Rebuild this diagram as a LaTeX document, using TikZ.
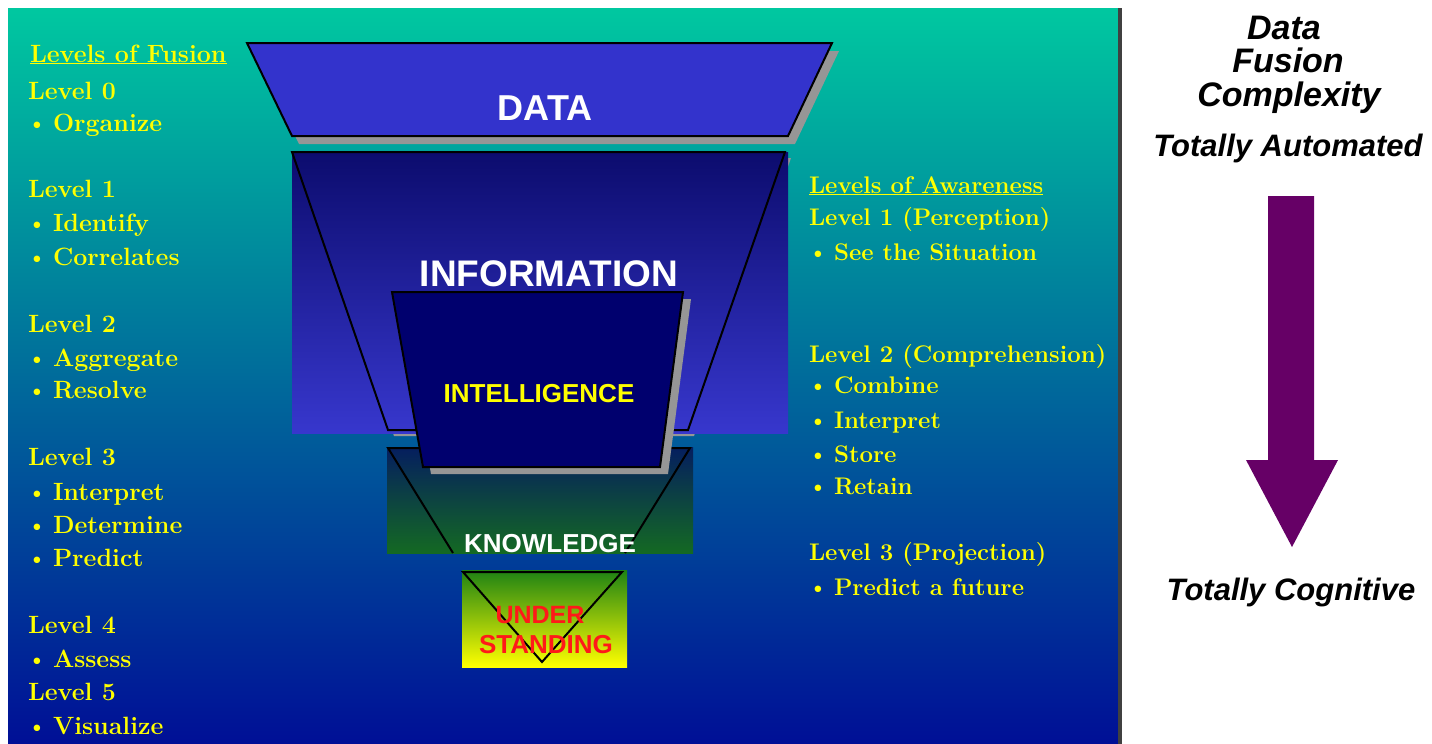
\documentclass[tikz,border=0pt]{standalone}
\usepackage{fontspec}
\newfontfamily\boxfont{Liberation Sans}
\definecolor{fuseyellow}{RGB}{255,255,0}
\definecolor{paneltop}{RGB}{0,200,160}
\definecolor{panelmid}{RGB}{0,115,160}
\definecolor{panelbot}{RGB}{0,15,150}
\definecolor{datablue}{RGB}{51,51,204}
\definecolor{infotop}{RGB}{12,12,110}
\definecolor{infobot}{RGB}{55,55,205}
\definecolor{intelnavy}{RGB}{0,0,110}
\definecolor{knowtop}{RGB}{5,30,95}
\definecolor{knowbot}{RGB}{20,105,35}
\definecolor{undtop}{RGB}{30,130,20}
\definecolor{undmid}{RGB}{190,215,10}
\definecolor{shadowgray}{RGB}{150,150,150}
\definecolor{cogpurple}{RGB}{102,0,102}
\definecolor{redlabel}{RGB}{255,25,25}
\newcommand{\fusebul}{\makebox[8pt]{\raisebox{1pt}{\fontsize{22}{22}\selectfont\textbullet}}\hspace{12pt}}

\begin{document}
\begin{tikzpicture}[x=1pt, y=-1pt, line width=2pt,
    lvl/.style={anchor=base west, inner sep=0pt, text=fuseyellow, font=\fontsize{25}{30}\selectfont\bfseries},
    awr/.style={lvl, font=\fontsize{24}{29}\selectfont\bfseries},
    tier/.style={inner sep=0pt, font=\boxfont\fontsize{#1}{#1}\selectfont\bfseries},
    cplx/.style={anchor=base, inner sep=0pt, font=\boxfont\fontsize{#1}{#1}\selectfont\bfseries\itshape}]

    \useasboundingbox (0,0) rectangle (1432,744);

    % panel and divider
    \fill[top color=paneltop, middle color=panelmid, bottom color=panelbot] (8,8) rectangle (1118,744);
    \draw[line width=4pt, black!75] (1120,8) -- (1120,744);

    % data
    \fill[shadowgray] (254,51) -- (839,51) -- (795,144) -- (299,144) -- cycle;
    \draw[fill=datablue] (247,43) -- (832,43) -- (788,136) -- (292,136) -- cycle;
    \node (data) at (545,108) [tier=36, text=white] {DATA};

    % information
    \fill[shadowgray] (298,158) -- (791,158) -- (694,436) -- (394,436) -- cycle;
    \fill[top color=infotop, bottom color=infobot] (292,152) rectangle (788,433);
    \draw (292,152) -- (785,152) -- (688,430) -- (388,430) -- cycle;
    \node (information) at (549,274) [tier=37, text=white] {INFORMATION};

    % knowledge
    \fill[top color=knowtop, bottom color=knowbot] (387,447) rectangle (693,553);
    \draw (453,553) -- (388,448) -- (690,448) -- (625,553);
    \node (knowledge) at (550,544) [tier=26, text=white] {KNOWLEDGE};

    % understanding
    \fill[top color=undtop, middle color=undmid, bottom color=fuseyellow] (462,570) rectangle (627,667);
    \draw (463,572) -- (622,572) -- (542,662) -- cycle;
    \node (under) at (540,615) [tier=25, text=redlabel] {UNDER};
    \node (standing) at (546,645) [tier=26, text=redlabel] {STANDING};

    % intelligence
    \fill[shadowgray] (400,299) -- (691,299) -- (668,474) -- (431,474) -- cycle;
    \draw[fill=intelnavy] (392,292) -- (683,292) -- (660,467) -- (423,467) -- cycle;
    \node (intelligence) at (539,394) [tier=26, text=fuseyellow] {INTELLIGENCE};

    % levels of fusion
    \node (fusionhead) at (29,62) [lvl] {\underline{Levels of Fusion}};
    \node (lvlzero)    at (27,99)  [lvl] {Level 0};
    \node (organize)   at (32,131) [lvl] {\fusebul Organize};
    \node (lvlone)     at (27,197) [lvl] {Level 1};
    \node (identify)   at (32,231) [lvl] {\fusebul Identify};
    \node (correlates) at (32,265) [lvl] {\fusebul Correlates};
    \node (lvltwo)     at (27,332) [lvl] {Level 2};
    \node (aggregate)  at (32,366) [lvl] {\fusebul Aggregate};
    \node (resolve)    at (32,398) [lvl] {\fusebul Resolve};
    \node (lvlthree)   at (27,465) [lvl] {Level 3};
    \node (interpretF) at (32,500) [lvl] {\fusebul Interpret};
    \node (determine)  at (32,533) [lvl] {\fusebul Determine};
    \node (predict)    at (32,566) [lvl] {\fusebul Predict};
    \node (lvlfour)    at (27,633) [lvl] {Level 4};
    \node (assess)     at (32,667) [lvl] {\fusebul Assess};
    \node (lvlfive)    at (27,700) [lvl] {Level 5};
    \node (visualize)  at (32,734) [lvl] {\fusebul Visualize};

    % levels of awareness
    \node (awarehead)     at (808,193) [awr] {\underline{Levels of Awareness}};
    \node (perception)    at (808,225) [awr] {Level 1 (Perception)};
    \node (situation)     at (813,260) [awr] {\fusebul See the Situation};
    \node (comprehension) at (808,362) [awr] {Level 2 (Comprehension)};
    \node (combine)       at (813,393) [awr] {\fusebul Combine};
    \node (interpretA)    at (813,428) [awr] {\fusebul Interpret};
    \node (store)         at (813,462) [awr] {\fusebul Store};
    \node (retain)        at (813,494) [awr] {\fusebul Retain};
    \node (projection)    at (808,560) [awr] {Level 3 (Projection)};
    \node (future)        at (813,595) [awr] {\fusebul Predict a future};

    % complexity scale
    \node (datafuse)   at (1284,39)  [cplx=34] {Data};
    \node (fusion)     at (1288,72)  [cplx=34] {Fusion};
    \node (complexity) at (1289,106) [cplx=34] {Complexity};
    \node (automated)  at (1288,156) [cplx=31] {Totally Automated};
    \node (cognitive)  at (1291,600) [cplx=31] {Totally Cognitive};

    \fill[cogpurple] (1268,196) -- (1314,196) -- (1314,460) -- (1338,460) -- (1292,547) -- (1246,460) -- (1268,460) -- cycle;

\end{tikzpicture}
\end{document}
